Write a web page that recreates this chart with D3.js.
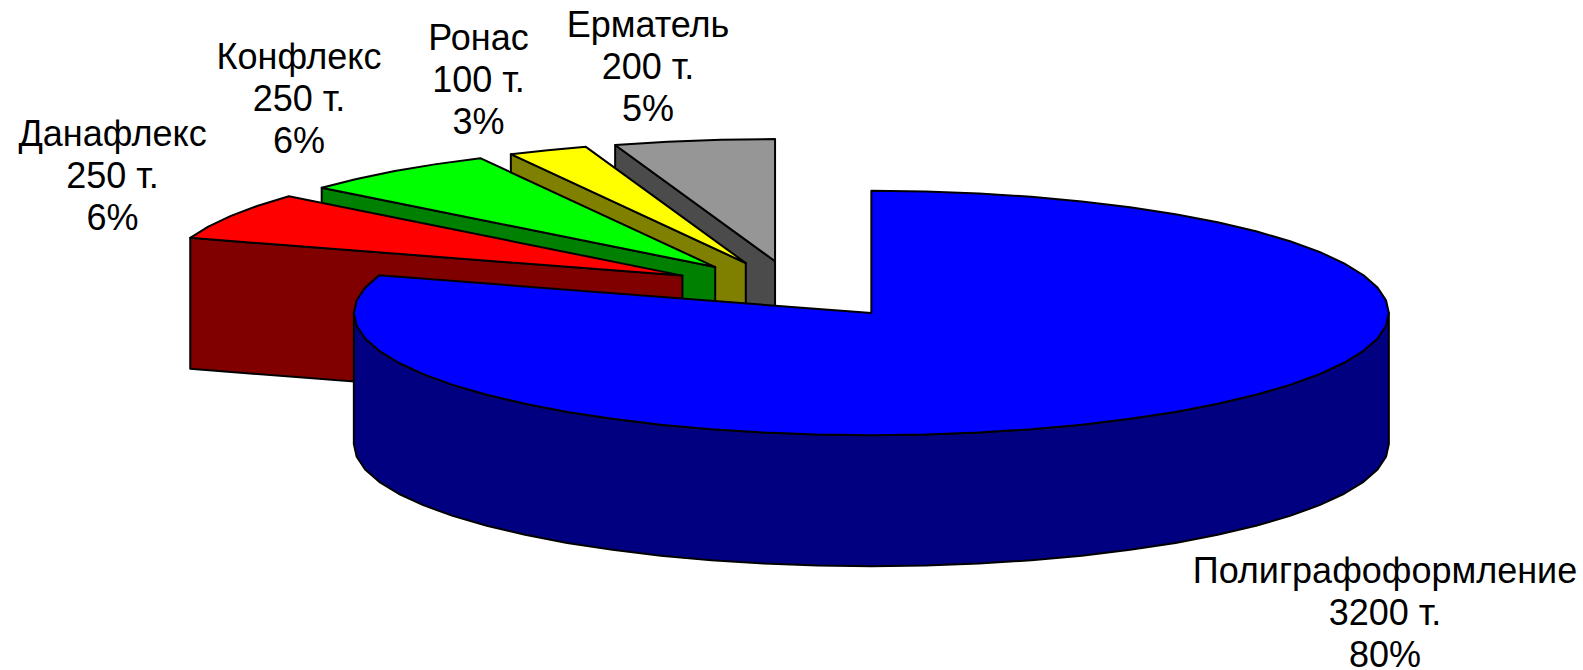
<!DOCTYPE html>
<html lang="ru">
<head>
<meta charset="utf-8">
<title>Pie 3D</title>
<script src="https://cdn.jsdelivr.net/npm/d3@7/dist/d3.min.js"></script>
<style>
  html, body { margin: 0; padding: 0; background: #fff; }
  svg { display: block; }
  .lab { font-family: "Liberation Sans", Arial, sans-serif; font-size: 36px; fill: #000; text-anchor: middle; }
</style>
</head>
<body>
<svg width="1583" height="670"></svg>
<script>
var names = ["Полиграфоформление", "Данафлекс", "Конфлекс", "Ронас", "Ерматель"];
var tons = [3200, 250, 250, 100, 200];
var topColors = ["#0000ff", "#ff0000", "#00ff00", "#ffff00", "#969696"];
var sideColors = ["#000080", "#800000", "#008000", "#808000", "#4b4b4b"];

var width = 1583, height = 670;
var cx = 795.3, cy = 289.7, rx = 517.5, ry = 122.2, depth = 131;
var explodeX = 0.25, explodeY = 0.236;
var labelX = [1385, 112.6, 299, 478.5, 648];
var labelY = [582.5, 146, 69, 50, 37];
var lineGap = 42.2;

var svg = d3.select("svg");

var x = d3.scaleLinear().domain([-1, 1]).range([cx - rx, cx + rx]);
var y = d3.scaleLinear().domain([-1, 1]).range([cy + ry, cy - ry]);

var total = d3.sum(tons);
var pct = d3.format(".0%");
var slices = d3.pie().sort(null)(tons);
var line = d3.line();

function pt(d, a, r, drop) {
  var mid = (d.startAngle + d.endAngle) / 2;
  var ux = explodeX * Math.sin(mid) + r * Math.sin(a);
  var uy = explodeY * Math.cos(mid) + r * Math.cos(a);
  return [x(ux), y(uy) + drop];
}

function arcAngles(a0, a1) {
  var step = Math.PI / 30;
  var n = Math.max(1, Math.round((a1 - a0) / step));
  return d3.range(n + 1).map(function(i) { return a0 + (a1 - a0) * i / n; });
}

function radialWall(d, a) {
  return line([pt(d, a, 0, 0), pt(d, a, 1, 0), pt(d, a, 1, depth), pt(d, a, 0, depth)]) + "Z";
}

function rimWall(d) {
  var a0 = Math.max(d.startAngle, Math.PI / 2), a1 = Math.min(d.endAngle, Math.PI * 1.5);
  if (a1 <= a0) return null;
  var as = arcAngles(a0, a1);
  var upper = as.map(function(a) { return pt(d, a, 1, 0); });
  var lower = as.slice().reverse().map(function(a) { return pt(d, a, 1, depth); });
  return line(upper.concat(lower)) + "Z";
}

function topFace(d) {
  var rim = arcAngles(d.startAngle, d.endAngle).map(function(a) { return pt(d, a, 1, 0); });
  return line([pt(d, 0, 0, 0)].concat(rim)) + "Z";
}

// back to front: grey, yellow, green, red, then the big blue one
var order = [4, 3, 2, 1, 0];
var g = svg.append("g")
  .attr("stroke", "#000")
  .attr("stroke-width", 2)
  .attr("stroke-linejoin", "round");

order.forEach(function(i) {
  var d = slices[i];
  if (Math.sin(d.startAngle) < -1e-6) {
    g.append("path").attr("d", radialWall(d, d.startAngle)).attr("fill", sideColors[i]);
  }
  if (Math.sin(d.endAngle) > 1e-6) {
    g.append("path").attr("d", radialWall(d, d.endAngle)).attr("fill", sideColors[i]);
  }
  var w = rimWall(d);
  if (w) g.append("path").attr("d", w).attr("fill", sideColors[i]);
  g.append("path").attr("d", topFace(d)).attr("fill", topColors[i]);
});

names.forEach(function(n, i) {
  var t = svg.append("text").attr("class", "lab");
  [n, tons[i] + " т.", pct(tons[i] / total)].forEach(function(s, k) {
    t.append("tspan").attr("x", labelX[i]).attr("y", labelY[i] + k * lineGap).text(s);
  });
});
</script>
</body>
</html>
